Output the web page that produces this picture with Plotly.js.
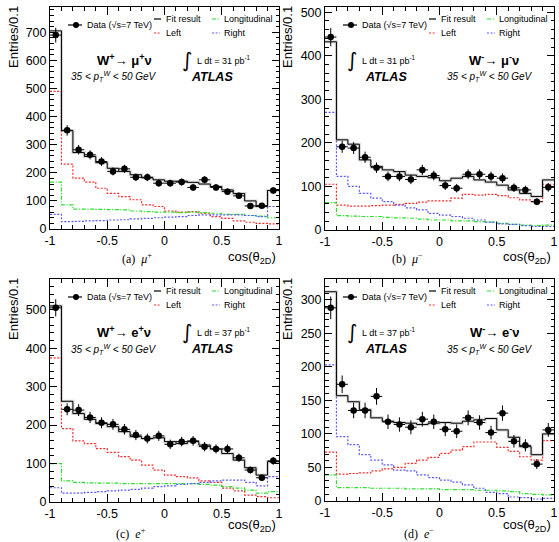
<!DOCTYPE html>
<html><head><meta charset="utf-8">
<script src="https://cdn.plot.ly/plotly-3.0.1.min.js"></script>
<style>html,body{margin:0;padding:0;background:#fff}#chart{width:559px;height:542px}</style>
</head><body><div id="chart"></div>
<script>
// bin structure: 20 bins of width 0.1 on cos(theta_2D)
const binCenters = [-0.95,-0.85,-0.75,-0.65,-0.55,-0.45,-0.35,-0.25,-0.15,-0.05,0.05,0.15,0.25,0.35,0.45,0.55,0.65,0.75,0.85,0.95];
const binEdges = [-1,-0.9,-0.8,-0.7,-0.6,-0.5,-0.4,-0.3,-0.2,-0.1,0,0.1,0.2,0.3,0.4,0.5,0.6,0.7,0.8,0.9,1];
const xTickVals = [-1,-0.5,0,0.5,1];
const xTickText = ['-1','-0.5','0','0.5','1'];

// (a) mu+
const muPlusData  = [690,351,282,264,240,205,214,184,184,163,163,167,148,175,148,133,118,82,83,137];
const muPlusFit   = [705,350,272,258,236,216,205,193,182,175,170,170,166,160,151,139,126,100,80,137];
const muPlusLeft  = [490,231,181,167,145,127,115,104,86,80,64,60,62,56,44,38,29,24,20,18];
const muPlusLong  = [167,86,71,71,70,69,68,64,62,60,60,58,60,58,56,52,52,48,46,40];
const muPlusRight = [52,26,27,29,30,32,33,36,38,40,42,44,48,50,50,50,50,48,44,80];
// (b) mu-
const muMinusData  = [443,191,188,167,143,123,123,116,138,125,102,96,128,128,123,119,97,92,65,98];
const muMinusFit   = [432,207,197,161,146,138,134,126,123,120,113,119,123,115,110,103,92,84,77,115];
const muMinusLeft  = [105,57,55,55,56,57,59,61,64,67,67,73,82,80,82,79,74,69,65,105];
const muMinusLong  = [63,33,32,31,31,29,28,27,25,23,23,21,21,19,18,15,13,11,10,11];
const muMinusRight = [270,123,100,84,73,65,57,51,46,38,34,31,27,23,18,14,13,10,8,8];
// (c) e+
const ePlusData  = [505,241,239,220,206,202,189,174,165,172,150,157,159,144,138,138,115,83,63,107];
const ePlusFit   = [510,262,230,215,204,196,183,170,165,167,157,152,157,148,138,126,109,89,70,105];
const ePlusLeft  = [375,191,159,152,139,129,118,109,96,83,70,66,63,55,51,36,29,18,14,11];
const ePlusLong  = [100,55,51,50,49,49,48,48,48,48,48,48,48,46,44,40,36,31,23,27];
const ePlusRight = [37,23,23,25,27,29,31,33,36,40,42,46,48,51,55,57,57,51,42,66];
// (d) e-
const eMinusData  = [288,174,135,135,156,118,114,110,122,118,107,104,124,117,102,131,89,83,55,106];
const eMinusFit   = [312,157,148,136,124,119,117,116,114,116,117,116,119,121,123,106,95,81,69,100];
const eMinusLeft  = [73,40,41,42,45,48,50,56,61,65,71,76,81,88,88,80,74,66,61,90];
const eMinusLong  = [39,20,20,20,19,19,19,18,18,18,17,17,17,16,16,15,14,11,10,9];
const eMinusRight = [203,96,84,69,61,54,46,45,39,35,31,28,24,19,13,11,6,5,3,4];

const legendLabels = ['Data (√s=7 TeV)','Fit result','Longitudinal','Left','Right'];
const lumiLabels = ['31','31','37','37'];
const procLabels = ['W<sup>+</sup>→ μ<sup>+</sup>ν','W<sup>-</sup>→ μ<sup>-</sup>ν','W<sup>+</sup>→ e<sup>+</sup>ν','W<sup>-</sup>→ e<sup>-</sup>ν'];
const captions = ['(a)&nbsp; <i>μ</i><sup>+</sup>','(b)&nbsp; <i>μ</i><sup>−</sup>','(c)&nbsp; <i>e</i><sup>+</sup>','(d)&nbsp; <i>e</i><sup>−</sup>'];

const W = 559, H = 542;
const px = x => x / W, py = y => 1 - y / H;
const FONT = 'Liberation Sans, Arial, sans-serif';
const COL = {fit:'#000000', left:'#ff2a2a', long:'#2ee02e', right:'#5a5aff'};
const DASH = {left:'2px,1.6px', long:'4px,1.6px,1.2px,1.6px', right:'2px,1.6px'};

const panels = [
  {data:muPlusData, fit:muPlusFit, left:muPlusLeft, lon:muPlusLong, right:muPlusRight, fx:50, fy:7, fw:229, fh:222, ymax:790, dy:100, minor:20, layoutB:false},
  {data:muMinusData, fit:muMinusFit, left:muMinusLeft, lon:muMinusLong, right:muMinusRight, fx:325, fy:7, fw:229, fh:223, ymax:512, dy:100, minor:20, layoutB:true},
  {data:ePlusData, fit:ePlusFit, left:ePlusLeft, lon:ePlusLong, right:ePlusRight, fx:50, fy:279, fw:229, fh:223, ymax:580, dy:100, minor:20, layoutB:false},
  {data:eMinusData, fit:eMinusFit, left:eMinusLeft, lon:eMinusLong, right:eMinusRight, fx:325, fy:279, fw:229, fh:222, ymax:331, dy:50, minor:10, layoutB:true}
];

const stepY = v => v.concat([v[v.length - 1]]);
const traces = [];
const layout = {
  width: W, height: H, margin:{l:0,r:0,t:0,b:0}, showlegend:false,
  paper_bgcolor:'#fff', plot_bgcolor:'#fff', font:{family:FONT, color:'#000'},
  annotations:[], shapes:[]
};

panels.forEach((p, i) => {
  const n = i === 0 ? '' : String(i + 1);
  const xa = 'x' + n, ya = 'y' + n;
  const stepTrace = (vals, color, dash, width) => ({
    type:'scatter', mode:'lines', x:binEdges, y:stepY(vals), xaxis:xa, yaxis:ya,
    line:{shape:'hv', color:color, dash:dash, width:width}, hoverinfo:'skip'
  });
  traces.push(stepTrace(p.left, COL.left, DASH.left, 1.2));
  traces.push(stepTrace(p.lon, COL.long, DASH.long, 1.2));
  traces.push(stepTrace(p.right, COL.right, DASH.right, 1.2));
  traces.push(stepTrace(p.fit, 'rgba(140,140,140,0.35)', 'solid', 3));
  traces.push(stepTrace(p.fit, COL.fit, 'solid', 1));
  traces.push({
    type:'scatter', mode:'markers', x:binCenters, y:p.data, xaxis:xa, yaxis:ya,
    marker:{color:'#000', size:6.5, symbol:'circle'},
    error_y:{type:'sqrt', color:'#000', thickness:1, width:0},
    error_x:{type:'constant', value:0.05, color:'#000', thickness:1, width:0}
  });

  layout['xaxis' + n] = {
    domain:[px(p.fx), px(p.fx + p.fw)], anchor:ya, range:[-1, 1],
    showline:true, linecolor:'#000', linewidth:1, mirror:'allticks',
    ticks:'inside', ticklen:8, tickcolor:'#000', tickwidth:1,
    tickmode:'array', tickvals:xTickVals, ticktext:xTickText,
    minor:{ticks:'inside', ticklen:4, tickcolor:'#000', dtick:0.1, tick0:-1, showgrid:false},
    showgrid:false, zeroline:false, tickfont:{family:FONT, size:12.5, color:'#000'}, fixedrange:true
  };
  layout['yaxis' + n] = {
    domain:[py(p.fy + p.fh), py(p.fy)], anchor:xa, range:[0, p.ymax],
    showline:true, linecolor:'#000', linewidth:1, mirror:'allticks',
    ticks:'inside', ticklen:7, tickcolor:'#000', tickwidth:1,
    tick0:0, dtick:p.dy,
    minor:{ticks:'inside', ticklen:3.5, tickcolor:'#000', dtick:p.minor, showgrid:false},
    showgrid:false, zeroline:false, tickfont:{family:FONT, size:12.5, color:'#000'}, fixedrange:true
  };

  const fx = p.fx, fy = p.fy;
  const A = layout.annotations, S = layout.shapes;
  const txt = (t, x, y, xa_, opts) => A.push(Object.assign({
    text:t, x:px(x), y:py(y), xref:'paper', yref:'paper', xanchor:xa_, yanchor:'middle',
    showarrow:false, font:{family:FONT, size:9, color:'#000'}
  }, opts || {}));
  const seg = (x0, x1, y, color, dash) => S.push({type:'line', xref:'paper', yref:'paper',
    x0:px(x0), x1:px(x1), y0:py(y), y1:py(y), line:{color:color, width:1.2, dash:dash}});

  // legend
  seg(fx + 18, fx + 32, fy + 18, '#000', 'solid');
  S.push({type:'circle', xref:'paper', yref:'paper', x0:px(fx + 23), x1:px(fx + 29), y0:py(fy + 21), y1:py(fy + 15), fillcolor:'#000', line:{color:'#000', width:0}});
  txt(legendLabels[0], fx + 35, fy + 18, 'left');
  seg(fx + 104, fx + 111, fy + 12, COL.fit, 'solid');
  txt(legendLabels[1], fx + 114, fy + 12, 'left');
  seg(fx + 162, fx + 170, fy + 12, COL.long, DASH.long);
  txt(legendLabels[2], fx + 172, fy + 12, 'left');
  seg(fx + 104, fx + 111, fy + 26, COL.left, DASH.left);
  txt(legendLabels[3], fx + 114, fy + 26, 'left');
  seg(fx + 162, fx + 170, fy + 26, COL.right, DASH.right);
  txt(legendLabels[4], fx + 172, fy + 26, 'left');

  // labels inside frame
  const intX = p.layoutB ? fx + 27 : fx + 137;
  const atlasX = p.layoutB ? fx + 61 : fx + 162;
  const procX = p.layoutB ? fx + 169 : fx + 74;
  const ptX = p.layoutB ? fx + 165 : fx + 64;
  txt('∫', intX, fy + 53, 'center', {font:{family:'DejaVu Sans, sans-serif', size:20, color:'#000'}});
  txt('L dt = ' + lumiLabels[i] + ' pb<sup>-1</sup>', intX + 8, fy + 53, 'left', {font:{family:FONT, size:9, color:'#000'}});
  txt('<b><i>ATLAS</i></b>', atlasX, fy + 70, 'center', {font:{family:FONT, size:12.5, color:'#000'}});
  txt('<b>' + procLabels[i] + '</b>', procX, fy + 53, 'center', {font:{family:FONT, size:13, color:'#000'}});
  txt('<i>35 &lt; p<sub>T</sub><sup>W</sup> &lt; 50 GeV</i>', ptX, fy + 70, 'center', {font:{family:FONT, size:10, color:'#000'}});

  // axis titles
  txt('Entries/0.1', p.layoutB ? 287 : 13, fy - 3, 'center', {yanchor:'top', textangle:-90, font:{family:FONT, size:13, color:'#000'}});
  txt('cos(θ<sub>2D</sub>)', fx + 228, fy + (i < 2 ? 250 : 246), 'right', {font:{family:FONT, size:13, color:'#000'}});
});

// captions
const capPos = [[137,258],[407,258],[131,533],[419,533]];
captions.forEach((c, i) => layout.annotations.push({
  text:c, x:px(capPos[i][0]), y:py(capPos[i][1]), xref:'paper', yref:'paper', xanchor:'center', yanchor:'middle',
  showarrow:false, font:{family:'Liberation Serif, DejaVu Serif, serif', size:12, color:'#000'}
}));

Plotly.newPlot('chart', traces, layout, {staticPlot:true, displayModeBar:false});
</script>
</body></html>
